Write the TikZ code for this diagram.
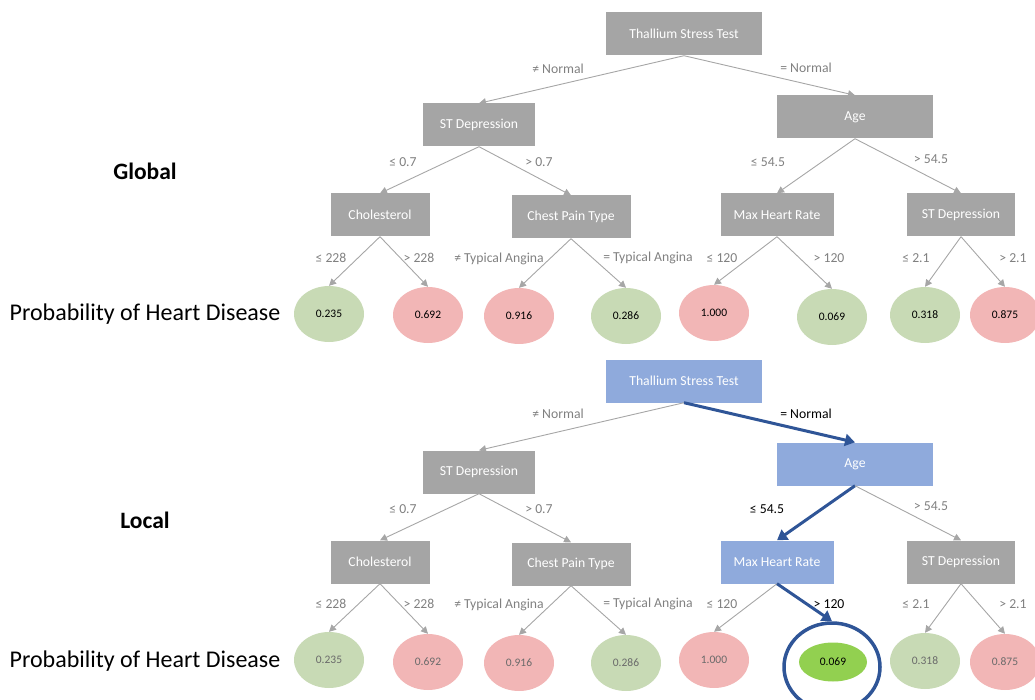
\documentclass[tikz,border=0pt]{standalone}
\usepackage{fontspec}
\setmainfont{Carlito}
\usepackage{xcolor}
\usepackage{tikz}
\usetikzlibrary{shapes.geometric,arrows.meta,positioning}
\definecolor{boxgray}{HTML}{A5A5A5}
\definecolor{boxblue}{HTML}{8FAADC}
\definecolor{pathblue}{HTML}{2F5597}
\definecolor{leafgreen}{HTML}{C8DAB5}
\definecolor{leafred}{HTML}{F2B6B6}
\definecolor{hitgreen}{HTML}{92D050}
\definecolor{linegray}{HTML}{A6A6A6}
\definecolor{labelgray}{HTML}{808080}
\definecolor{leaftext}{HTML}{6A6A6A}

\tikzset{
  split/.style={rectangle,fill=boxgray,text=white,font=\fontsize{13.7}{15}\selectfont,minimum height=43pt,inner sep=2pt},
  splithit/.style={split,fill=boxblue},
  leaf/.style={ellipse,minimum width=70pt,minimum height=56pt,inner sep=0pt,font=\fontsize{11.5}{13}\selectfont},
  low/.style={leaf,fill=leafgreen},
  high/.style={leaf,fill=leafred},
  branch/.style={draw=linegray,line width=0.9pt,-{Triangle[length=7pt,width=7pt]}},
  branchhit/.style={draw=pathblue,line width=3pt,-{Triangle[length=10pt,width=12pt]}},
  cond/.style={text=labelgray,font=\fontsize{13.7}{15}\selectfont,inner sep=0pt},
  condhit/.style={cond,text=black},
  side/.style={font=\fontsize{24}{27}\selectfont}
}

\begin{document}
\begin{tikzpicture}[x=1pt,y=-1pt]
    \useasboundingbox (0,0) rectangle (1035,700);

    % Global tree
    \node[side,font=\fontsize{23.5}{26}\selectfont\bfseries] (g-title) at (145,171) {Global};
    \node[side] (g-prob) at (145,314) {Probability of Heart Disease};

    \node[split,minimum width=156pt] (g-thal) at (684,34) {Thallium Stress Test};
    \node[split,minimum width=112pt] (g-st) at (479,125) {ST Depression};
    \node[split,minimum width=156pt] (g-age) at (855,117) {Age};
    \node[split,minimum width=99pt] (g-chol) at (380,215) {Cholesterol};
    \node[split,minimum width=119pt] (g-cpt) at (571,217) {Chest Pain Type};
    \node[split,minimum width=113pt] (g-mhr) at (777,215) {Max Heart Rate};
    \node[split,minimum width=108pt] (g-st2) at (961,215) {ST Depression};

    \node[low] (g-p1) at (329,314) {0.235};
    \node[high] (g-p2) at (428,315) {0.692};
    \node[high] (g-p3) at (519,316) {0.916};
    \node[low] (g-p4) at (626,316) {0.286};
    \node[high] (g-p5) at (714,313) {1.000};
    \node[low] (g-p6) at (832,317) {0.069};
    \node[low] (g-p7) at (925,315) {0.318};
    \node[high] (g-p8) at (1005,315) {0.875};

    \draw[branch] (g-thal.south) -- (g-st.north);
    \draw[branch] (g-thal.south) -- (g-age.north);
    \draw[branch] (g-st.south) -- (g-chol.north);
    \draw[branch] (g-st.south) -- (g-cpt.north);
    \draw[branch] (g-age.south) -- (g-mhr.north);
    \draw[branch] (g-age.south) -- (g-st2.north);
    \draw[branch] (g-chol.south) -- (g-p1.north);
    \draw[branch] (g-chol.south) -- (g-p2.north);
    \draw[branch] (g-cpt.south) -- (g-p3.north);
    \draw[branch] (g-cpt.south) -- (g-p4.north);
    \draw[branch] (g-mhr.south) -- (g-p5.north);
    \draw[branch] (g-mhr.south) -- (g-p6.north);
    \draw[branch] (g-st2.south) -- (g-p7.north);
    \draw[branch] (g-st2.south) -- (g-p8.north);

    \node[cond] (g-c1) at (558,69) {≠ Normal};
    \node[cond] (g-c2) at (806,68) {= Normal};
    \node[cond] (g-c3) at (403,162) {≤ 0.7};
    \node[cond] (g-c4) at (539,162) {> 0.7};
    \node[cond] (g-c5) at (768,162) {≤ 54.5};
    \node[cond] (g-c6) at (931,159) {> 54.5};
    \node[cond] (g-c7) at (331,258) {≤ 228};
    \node[cond] (g-c8) at (419,258) {> 228};
    \node[cond] (g-c9) at (499,259) {≠ Typical Angina};
    \node[cond] (g-c10) at (648,258) {= Typical Angina};
    \node[cond] (g-c11) at (722,258) {≤ 120};
    \node[cond] (g-c12) at (829,258) {> 120};
    \node[cond] (g-c13) at (916,258) {≤ 2.1};
    \node[cond] (g-c14) at (1013,258) {> 2.1};

    % Local tree, path of the example in blue
    \node[side,font=\fontsize{23.5}{26}\selectfont\bfseries] (l-title) at (145,520) {Local};
    \node[side] (l-prob) at (145,661) {Probability of Heart Disease};

    \node[splithit,minimum width=156pt] (l-thal) at (684,381) {Thallium Stress Test};
    \node[split,minimum width=112pt] (l-st) at (479,472) {ST Depression};
    \node[splithit,minimum width=156pt] (l-age) at (855,464) {Age};
    \node[split,minimum width=99pt] (l-chol) at (380,562) {Cholesterol};
    \node[split,minimum width=119pt] (l-cpt) at (571,564) {Chest Pain Type};
    \node[splithit,minimum width=113pt] (l-mhr) at (777,562) {Max Heart Rate};
    \node[split,minimum width=108pt] (l-st2) at (961,562) {ST Depression};

    \node[low,text=leaftext] (l-p1) at (329,660) {0.235};
    \node[high,text=leaftext] (l-p2) at (428,662) {0.692};
    \node[high,text=leaftext] (l-p3) at (519,663) {0.916};
    \node[low,text=leaftext] (l-p4) at (626,663) {0.286};
    \node[high,text=leaftext] (l-p5) at (714,660) {1.000};
    \node[leaf,fill=hitgreen,minimum width=68pt,minimum height=39pt] (l-p6) at (833,662) {0.069};
    \node[draw=pathblue,line width=3.5pt,ellipse,minimum width=96pt,minimum height=88pt] (l-ring) at (832,667) {};
    \node[low,text=leaftext] (l-p7) at (925,661) {0.318};
    \node[high,text=leaftext] (l-p8) at (1005,662) {0.875};

    \draw[branch] (l-thal.south) -- (l-st.north);
    \draw[branchhit] (l-thal.south) -- (l-age.north);
    \draw[branch] (l-st.south) -- (l-chol.north);
    \draw[branch] (l-st.south) -- (l-cpt.north);
    \draw[branchhit] (l-age.south) -- (l-mhr.north);
    \draw[branch] (l-age.south) -- (l-st2.north);
    \draw[branch] (l-chol.south) -- (l-p1.north);
    \draw[branch] (l-chol.south) -- (l-p2.north);
    \draw[branch] (l-cpt.south) -- (l-p3.north);
    \draw[branch] (l-cpt.south) -- (l-p4.north);
    \draw[branch] (l-mhr.south) -- (l-p5.north);
    \draw[branchhit] (l-mhr.south) -- (l-ring.north);
    \draw[branch] (l-st2.south) -- (l-p7.north);
    \draw[branch] (l-st2.south) -- (l-p8.north);

    \node[cond] (l-c1) at (558,414) {≠ Normal};
    \node[condhit] (l-c2) at (806,414) {= Normal};
    \node[cond] (l-c3) at (403,509) {≤ 0.7};
    \node[cond] (l-c4) at (539,509) {> 0.7};
    \node[condhit] (l-c5) at (767,509) {≤ 54.5};
    \node[cond] (l-c6) at (931,506) {> 54.5};
    \node[cond] (l-c7) at (331,604) {≤ 228};
    \node[cond] (l-c8) at (419,604) {> 228};
    \node[cond] (l-c9) at (499,605) {≠ Typical Angina};
    \node[cond] (l-c10) at (648,604) {= Typical Angina};
    \node[cond] (l-c11) at (722,604) {≤ 120};
    \node[condhit] (l-c12) at (829,604) {> 120};
    \node[cond] (l-c13) at (916,604) {≤ 2.1};
    \node[cond] (l-c14) at (1013,604) {> 2.1};
\end{tikzpicture}
\end{document}
